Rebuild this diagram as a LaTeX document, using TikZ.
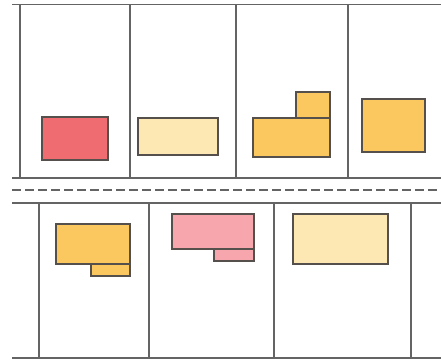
\documentclass[tikz,border=0pt]{standalone}
\usepackage{xcolor}
\usepackage{tikz}
\usetikzlibrary{positioning}
\definecolor{shLine}   {RGB}{100,100,100}
\definecolor{shEdge}   {RGB}{ 85, 80, 75}
\definecolor{shRed}    {RGB}{239,108,112}
\definecolor{shPink}   {RGB}{246,166,172}
\definecolor{shOrange} {RGB}{251,200, 96}
\definecolor{shCream}  {RGB}{253,232,180}

\begin{document}
\begin{tikzpicture}[x=1pt,y=-1pt,
  wall/.style={draw=shLine,line width=1.2pt},
  cut/.style={draw=shLine,line width=1.2pt,dash pattern=on 9pt off 4pt},
  block/.style={draw=shEdge,line width=1.2pt}
]
\useasboundingbox (0,0) rectangle (441,360);
% upper strip
\draw[wall] (12,4.5) coordinate (TL) -- (441,4.5) coordinate (TR);
\draw[wall] (12,178) coordinate (ML) -- (441,178) coordinate (MR);
\foreach \x in {20,130,236,348}
  \draw[wall] (\x,4.5) -- (\x,178);
% cut line
\draw[cut] (12,190) coordinate (CL) -- (441,190) coordinate (CR);
% lower strip
\draw[wall] (12,203) coordinate (BL) -- (441,203) coordinate (BR);
\draw[wall] (12,358) coordinate (EL) -- (441,358) coordinate (ER);
\foreach \x in {39,149,274,411}
  \draw[wall] (\x,203) -- (\x,358);
% upper blocks
\filldraw[block,fill=shRed]    (42,117) rectangle (108,160);
\filldraw[block,fill=shCream]  (138,118) rectangle (218,155);
\filldraw[block,fill=shOrange] (296,92) rectangle (330,118);
\filldraw[block,fill=shOrange] (253,118) rectangle (330,157);
\filldraw[block,fill=shOrange] (362,99) rectangle (425,152);
% lower blocks
\filldraw[block,fill=shOrange] (91,264) rectangle (130,276);
\filldraw[block,fill=shOrange] (56,224) rectangle (130,264);
\filldraw[block,fill=shPink]   (214,249) rectangle (254,261);
\filldraw[block,fill=shPink]   (172,214) rectangle (254,249);
\filldraw[block,fill=shCream]  (293,214) rectangle (388,264);
\end{tikzpicture}
\end{document}
